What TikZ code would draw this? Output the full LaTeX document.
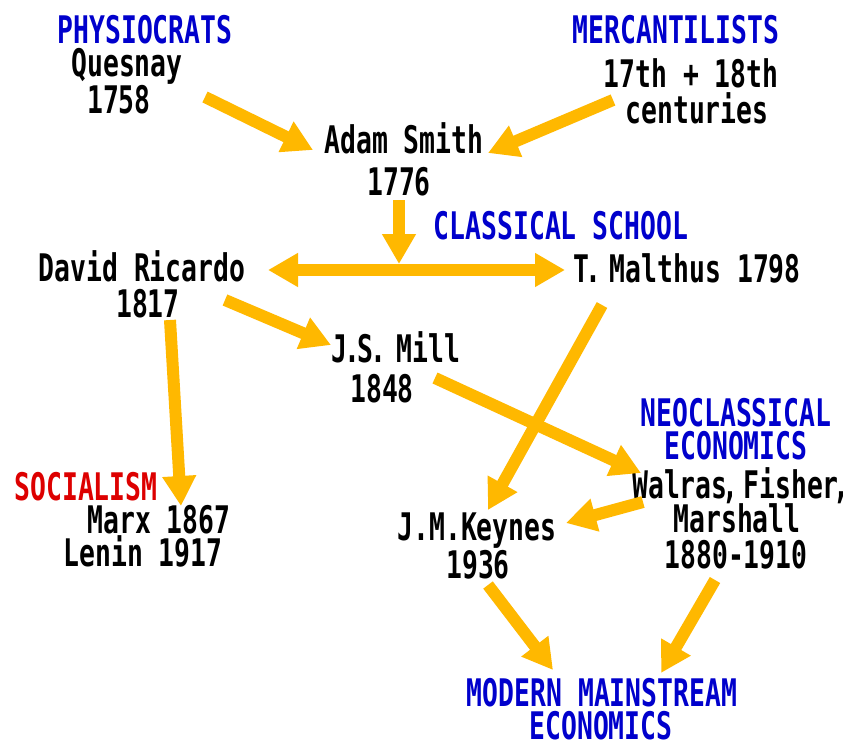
\documentclass[tikz,border=0pt]{standalone}
\usepackage{fontspec}
\setmonofont[FakeStretch=0.695]{DejaVu Sans Mono}
\usetikzlibrary{arrows.meta}
\definecolor{arrowyellow}{RGB}{255,184,0}
\definecolor{headblue}{RGB}{0,0,204}
\definecolor{headred}{RGB}{221,0,0}
\newcommand{\nk}[1]{\kern-#1pt\relax}
\begin{document}
\begin{tikzpicture}[x=1pt,y=-1pt,
  txt/.style={anchor=base,inner sep=0pt,font=\ttfamily\bfseries\fontsize{38}{38}\selectfont},
  head/.style={txt,text=headblue},
  redhead/.style={txt,text=headred},
  flow/.style={draw=arrowyellow,line width=12pt,
    -{Triangle[length=30pt,width=32pt,fill=arrowyellow]}},
  both/.style={draw=arrowyellow,line width=12pt,
    {Triangle[length=30pt,width=32pt,fill=arrowyellow]}-{Triangle[length=30pt,width=32pt,fill=arrowyellow]}}]
\useasboundingbox[fill=white] (0,0) rectangle (857,740);
% headings
\node[head] (phys) at (145,43) {PHYSIOCRATS};
\node[head] (merc) at (676,43) {MERCANTILISTS};
\node[head] (class) at (561,239) {CLASSICAL SCHOOL};
\node[head] (neo1) at (736,426) {NEOCLASSICAL};
\node[head] (neo2) at (736,459) {ECONOMICS};
\node[redhead] (soc) at (86,500) {SOCIALISM};
\node[head] (mod1) at (602,706) {MODERN MAINSTREAM};
\node[head] (mod2) at (601,739) {ECONOMICS};
% people
\node[txt] (quesnay) at (127,76) {Quesnay};
\node[txt] (quesnayy) at (119,113) {1758};
\node[txt] (merc1) at (691,87) {17th + 18th};
\node[txt] (merc2) at (697,123) {centuries};
\node[txt] (smith) at (404,153) {Adam Smith};
\node[txt] (smithy) at (399,195) {1776};
\node[txt] (ricardo) at (142,281) {David Ricardo};
\node[txt] (ricardoy) at (148,317) {1817};
\node[txt] (malthus) at (687,282) {T\nk{4}.\nk{7}\ Malthus 1798};
\node[txt] (mill) at (396,362) {J\nk{3}.\nk{3}S\nk{3}.\nk{5}\ Mill};
\node[txt] (milly) at (382,402) {1848};
\node[txt] (marx) at (159,533) {Marx 1867};
\node[txt] (lenin) at (143,566) {Lenin 1917};
\node[txt] (keynes) at (477,540) {J.M.Keynes};
\node[txt] (keynesy) at (478,578) {1936};
\node[txt] (walras) at (741,498) {Walras\nk{5},\nk{11}\ Fisher\nk{5},};
\node[txt] (marshall) at (737,532) {Marshall};
\node[txt] (walrasy) at (736,568) {1880-1910};
% connector ends
\coordinate (a1s) at (205,97);   \coordinate (a1e) at (313,150);
\coordinate (a2s) at (613,100);  \coordinate (a2e) at (488,153);
\coordinate (a3s) at (399,200);  \coordinate (a3e) at (399,264);
\coordinate (a4s) at (268,270);  \coordinate (a4e) at (565,270);
\coordinate (a5s) at (225,300);  \coordinate (a5e) at (331,345);
\coordinate (a6s) at (170,320);  \coordinate (a6e) at (181,506);
\coordinate (a7s) at (602,305);  \coordinate (a7e) at (488,510);
\coordinate (a8s) at (435,378);  \coordinate (a8e) at (641,473);
\coordinate (a9s) at (643,502);  \coordinate (a9e) at (566,523);
\coordinate (a10s) at (488,585); \coordinate (a10e) at (553,670);
\coordinate (a11s) at (715,580); \coordinate (a11e) at (661,673);
% arrows
\draw[flow] (a1s) -- (a1e);
\draw[flow] (a2s) -- (a2e);
\draw[both] (a4s) -- (a4e);
\draw[flow] (a3s) -- (a3e);
\draw[flow] (a5s) -- (a5e);
\draw[flow] (a6s) -- (a6e);
\draw[flow] (a7s) -- (a7e);
\draw[flow] (a8s) -- (a8e);
\draw[flow] (a9s) -- (a9e);
\draw[flow] (a10s) -- (a10e);
\draw[flow] (a11s) -- (a11e);
\end{tikzpicture}
\end{document}
